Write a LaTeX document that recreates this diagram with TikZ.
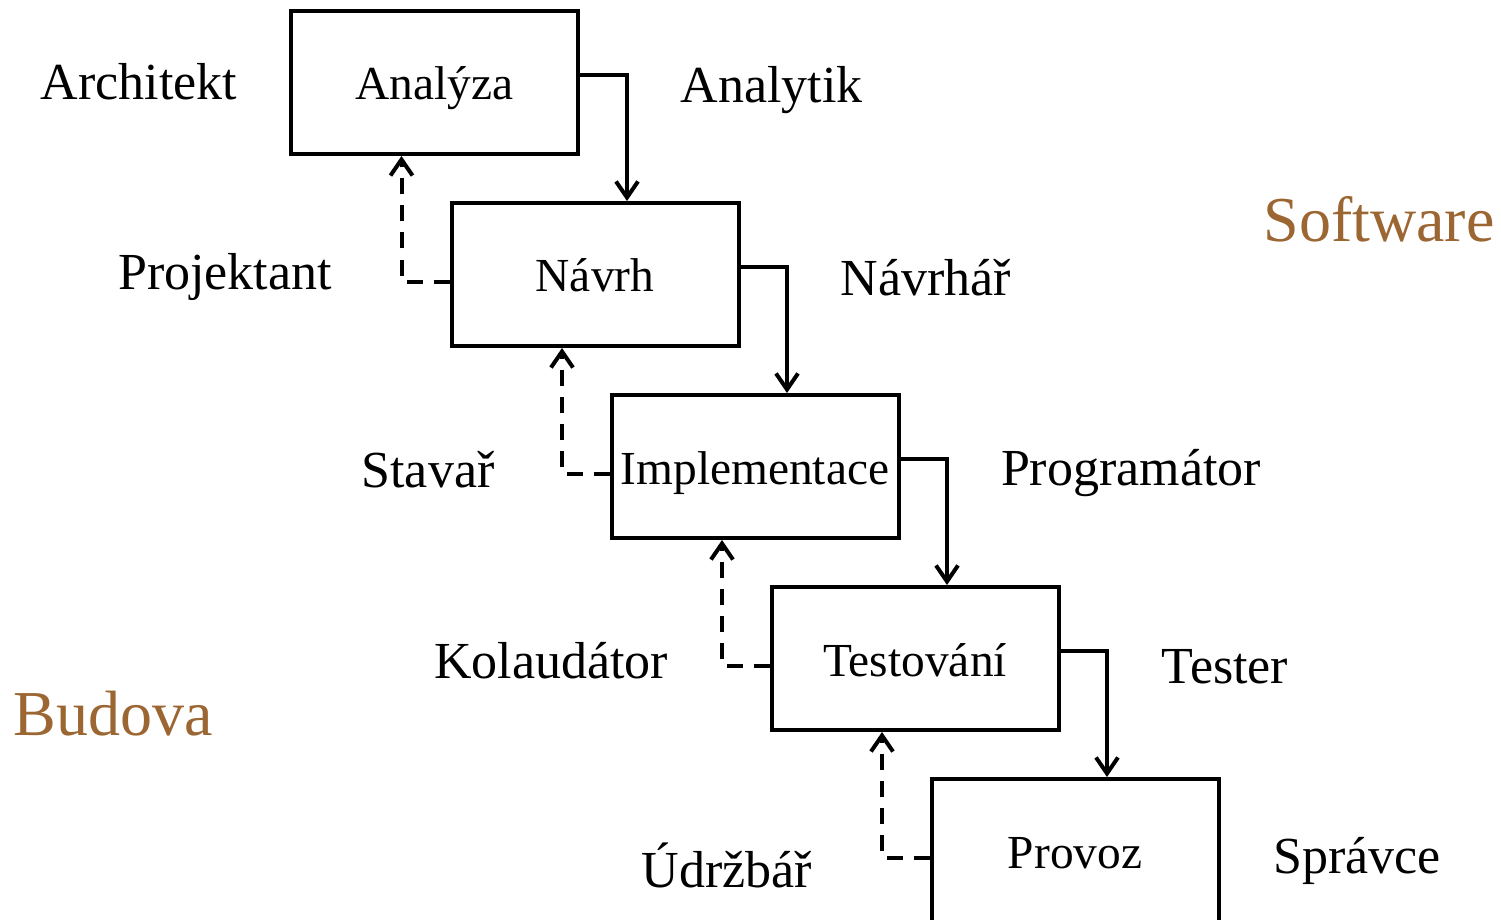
\documentclass[tikz,border=0pt]{standalone}
\usepackage{fontspec}
\setmainfont{Liberation Serif}
\usetikzlibrary{arrows.meta}
\definecolor{domain}{RGB}{155,102,50}
\begin{document}
\begin{tikzpicture}[x=0.5pt,y=-0.5pt,
  phase/.style={draw, line width=2pt, minimum width=143.5pt, minimum height=71.5pt,
    inner sep=0pt, text height=17.5pt, text depth=0pt,
    font=\fontsize{23.7}{28}\selectfont},
  role/.style={anchor=base, inner sep=0pt, font=\fontsize{26}{31}\selectfont},
  domainlbl/.style={anchor=base, inner sep=0pt, text=domain,
    font=\fontsize{32}{38}\selectfont},
  forward/.style={line width=2pt, -{Straight Barb[length=8pt,width=11pt]}},
  back/.style={forward, dash pattern=on 8pt off 5.5pt}]
\useasboundingbox (0,0) rectangle (1501,920);
\clip (0,0) rectangle (1501,920);

% phases of the waterfall
\node[phase] (an) at (434.5,82.5)  {Analýza};
\node[phase] (nv) at (595,274.5)   {Návrh};
\node[phase] (im) at (755,466.5)   {Implementace};
\node[phase] (te) at (915,658.5)   {Testování};
\node[phase] (pr) at (1075,850.5)  {Provoz};

% forward flow
\draw[forward] ([yshift=3.75pt]an.east) -| ([xshift=16pt]nv.north);
\draw[forward] ([yshift=3.75pt]nv.east) -| ([xshift=16pt]im.north);
\draw[forward] ([yshift=3.75pt]im.east) -| ([xshift=16pt]te.north);
\draw[forward] ([yshift=3.75pt]te.east) -| ([xshift=16pt]pr.north);

% feedback
\draw[back] ([yshift=-3.5pt]nv.west) -| ([xshift=-16.5pt]an.south);
\draw[back] ([yshift=-3.5pt]im.west) -| ([xshift=-16.5pt]nv.south);
\draw[back] ([yshift=-3.5pt]te.west) -| ([xshift=-16.5pt]im.south);
\draw[back] ([yshift=-3.5pt]pr.west) -| ([xshift=-16.5pt]te.south);

% roles in building construction (left)
\node[role] (r1) at (139,100)  {Architekt};
\node[role] (r2) at (225,290)  {Projektant};
\node[role] (r3) at (428,487)  {Stavař};
\node[role] (r4) at (551,678)  {Kolaudátor};
\node[role] (r5) at (727,887)  {Údržbář};

% roles in software (right)
\node[role] (s1) at (771.5,103) {Analytik};
\node[role] (s2) at (926,295)   {Návrhář};
\node[role] (s3) at (1131,485)  {Programátor};
\node[role] (s4) at (1225,683)  {Tester};
\node[role] (s5) at (1357,873)  {Správce};

% domains
\node[domainlbl] (sw) at (1379,242) {Software};
\node[domainlbl] (bd) at (113,735)  {Budova};
\end{tikzpicture}
\end{document}
